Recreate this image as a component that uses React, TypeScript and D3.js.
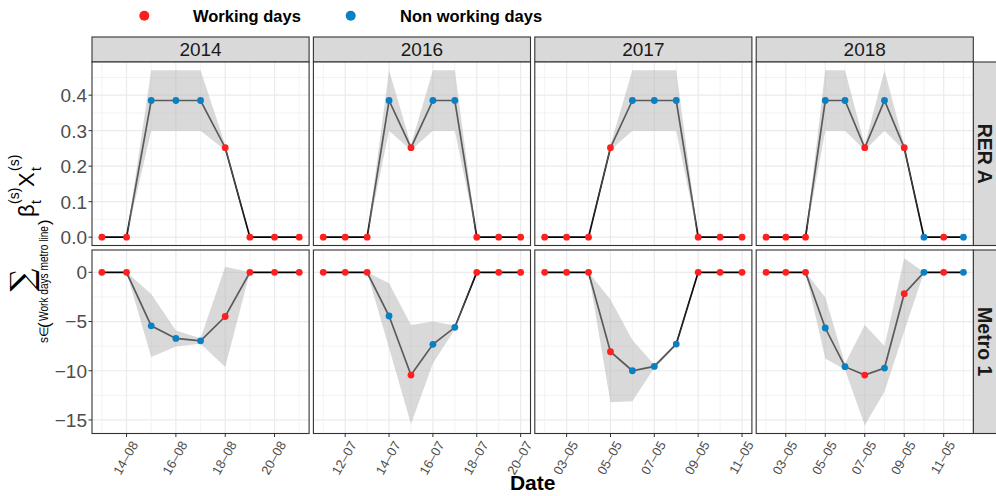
import React from "react";
import * as d3 from "d3";

// ---------------- DATA ----------------
const years = ["2014", "2016", "2017", "2018"];
const rows = ["RER A", "Metro 1"];

const dates2014 = ["2014-08-13", "2014-08-14", "2014-08-15", "2014-08-16", "2014-08-17", "2014-08-18", "2014-08-19", "2014-08-20", "2014-08-21"];
const dates2016 = ["2016-07-11", "2016-07-12", "2016-07-13", "2016-07-14", "2016-07-15", "2016-07-16", "2016-07-17", "2016-07-18", "2016-07-19", "2016-07-20"];
const dates2017 = ["2017-05-02", "2017-05-03", "2017-05-04", "2017-05-05", "2017-05-06", "2017-05-07", "2017-05-08", "2017-05-09", "2017-05-10", "2017-05-11"];
const dates2018 = ["2018-05-02", "2018-05-03", "2018-05-04", "2018-05-05", "2018-05-06", "2018-05-07", "2018-05-08", "2018-05-09", "2018-05-10", "2018-05-11", "2018-05-12"];

// W = working day, N = non working day
const dayType2014 = ["W", "W", "N", "N", "N", "W", "W", "W", "W"];
const dayType2016 = ["W", "W", "W", "N", "W", "N", "N", "W", "W", "W"];
const dayType2017 = ["W", "W", "W", "W", "N", "N", "N", "W", "W", "W"];
const dayType2018 = ["W", "W", "W", "N", "N", "W", "N", "W", "N", "W", "N"];

const rerValue2014 = [0, 0, 0.385, 0.385, 0.385, 0.252, 0, 0, 0];
const rerLow2014 = [0, 0, 0.3, 0.3, 0.3, 0.245, 0, 0, 0];
const rerHigh2014 = [0, 0, 0.47, 0.47, 0.47, 0.26, 0, 0, 0];
const rerValue2016 = [0, 0, 0, 0.385, 0.252, 0.385, 0.385, 0, 0, 0];
const rerLow2016 = [0, 0, 0, 0.3, 0.245, 0.3, 0.3, 0, 0, 0];
const rerHigh2016 = [0, 0, 0, 0.47, 0.26, 0.47, 0.47, 0, 0, 0];
const rerValue2017 = [0, 0, 0, 0.252, 0.385, 0.385, 0.385, 0, 0, 0];
const rerLow2017 = [0, 0, 0, 0.245, 0.3, 0.3, 0.3, 0, 0, 0];
const rerHigh2017 = [0, 0, 0, 0.26, 0.47, 0.47, 0.47, 0, 0, 0];
const rerValue2018 = [0, 0, 0, 0.385, 0.385, 0.252, 0.385, 0.252, 0, 0, 0];
const rerLow2018 = [0, 0, 0, 0.3, 0.3, 0.245, 0.3, 0.245, 0, 0, 0];
const rerHigh2018 = [0, 0, 0, 0.47, 0.47, 0.26, 0.47, 0.26, 0, 0, 0];

const metroValue2014 = [0, 0, -5.44, -6.72, -6.96, -4.49, 0, 0, 0];
const metroLow2014 = [0, 0, -8.61, -7.53, -7.26, -9.63, 0, 0, 0];
const metroHigh2014 = [0, 0, -2.2, -5.91, -6.7, 0.57, 0, 0, 0];
const metroValue2016 = [0, 0, 0, -4.44, -10.44, -7.32, -5.59, 0, 0, 0];
const metroLow2016 = [0, 0, 0, -7.7, -15.4, -9.25, -5.8, 0, 0, 0];
const metroHigh2016 = [0, 0, 0, -1.12, -5.36, -5.0, -5.4, 0, 0, 0];
const metroValue2017 = [0, 0, 0, -8.07, -10.0, -9.56, -7.29, 0, 0, 0];
const metroLow2017 = [0, 0, 0, -13.2, -13.1, -9.7, -7.4, 0, 0, 0];
const metroHigh2017 = [0, 0, 0, -2.75, -6.88, -9.4, -7.2, 0, 0, 0];
const metroValue2018 = [0, 0, 0, -5.66, -9.59, -10.44, -9.73, -2.17, 0, 0, 0];
const metroLow2018 = [0, 0, 0, -8.75, -9.9, -15.53, -12.14, -6.0, 0, 0, 0];
const metroHigh2018 = [0, 0, 0, -2.54, -9.3, -5.36, -7.49, 1.42, 0, 0, 0];

const xTicks2014 = ["2014-08-14", "2014-08-16", "2014-08-18", "2014-08-20"];
const xTicks2016 = ["2016-07-12", "2016-07-14", "2016-07-16", "2016-07-18", "2016-07-20"];
const xTicks2017 = ["2017-05-03", "2017-05-05", "2017-05-07", "2017-05-09", "2017-05-11"];
const xTicks2018 = ["2018-05-03", "2018-05-05", "2018-05-07", "2018-05-09", "2018-05-11"];

const rerTicks = [0, 0.1, 0.2, 0.3, 0.4];
const rerTickLabels = ["0.0", "0.1", "0.2", "0.3", "0.4"];
const rerMinor = [0.05, 0.15, 0.25, 0.35, 0.45];
const metroTicks = [0, -5, -10, -15];
const metroTickLabels = ["0", "\u22125", "\u221210", "\u221215"];
const metroMinor = [-2.5, -7.5, -12.5];

const legendLabels = ["Working days", "Non working days"];

// ---------------- BUILD TABLES ----------------
const datesByYear = [dates2014, dates2016, dates2017, dates2018];
const typesByYear = [dayType2014, dayType2016, dayType2017, dayType2018];
const ticksByYear = [xTicks2014, xTicks2016, xTicks2017, xTicks2018];
const rerSeries = [
  [rerValue2014, rerLow2014, rerHigh2014],
  [rerValue2016, rerLow2016, rerHigh2016],
  [rerValue2017, rerLow2017, rerHigh2017],
  [rerValue2018, rerLow2018, rerHigh2018],
];
const metroSeries = [
  [metroValue2014, metroLow2014, metroHigh2014],
  [metroValue2016, metroLow2016, metroHigh2016],
  [metroValue2017, metroLow2017, metroHigh2017],
  [metroValue2018, metroLow2018, metroHigh2018],
];

const parse = d3.utcParse("%Y-%m-%d");
const fmt = d3.utcFormat("%d\u2013%m");

type Pt = { date: Date; v: number; lo: number; hi: number; work: boolean };

function buildPanel(col: number, series: number[][][]): Pt[] {
  const [v, lo, hi] = series[col];
  return datesByYear[col].map((d, i) => ({
    date: parse(d) as Date,
    v: v[i],
    lo: lo[i],
    hi: hi[i],
    work: typesByYear[col][i] === "W",
  }));
}

// ---------------- LAYOUT ----------------
const WIDTH = 996;
const HEIGHT = 496;
const FONT = "'Liberation Sans', Arial, Helvetica, sans-serif";
const RED = "#FF1F1F";
const BLUE = "#0A80C4";
const GRID = "#EBEBEB";
const FRAME = "#333333";
const STRIP = "#D9D9D9";

const panelLeft = 92;
const panelRight = 973.3;
const colGap = 4.3;
const panelW = (panelRight - panelLeft - 3 * colGap) / 4;
const stripTop = 37;
const stripH = 25;
const rowTop = [62, 250];
const panelH = 183.5;

function expanded(min: number, max: number): [number, number] {
  const pad = (max - min) * 0.05;
  return [min - pad, max + pad];
}

const rerAll = rerSeries.flatMap((s) => [...s[1], ...s[2], ...s[0]]);
const metroAll = metroSeries.flatMap((s) => [...s[1], ...s[2], ...s[0]]);
const rerDomain = expanded(d3.min(rerAll)!, d3.max(rerAll)!);
const metroDomain = expanded(d3.min(metroAll)!, d3.max(metroAll)!);

const yScales = [
  d3.scaleLinear().domain(rerDomain).range([rowTop[0] + panelH, rowTop[0]]),
  d3.scaleLinear().domain(metroDomain).range([rowTop[1] + panelH, rowTop[1]]),
];
const yMajor = [rerTicks, metroTicks];
const yMajorLabels = [rerTickLabels, metroTickLabels];
const yMinor = [rerMinor, metroMinor];

function xScaleFor(col: number) {
  const ds = datesByYear[col].map((d) => parse(d) as Date);
  const t0 = +ds[0];
  const t1 = +ds[ds.length - 1];
  const pad = (t1 - t0) * 0.05;
  const x0 = panelLeft + col * (panelW + colGap);
  return d3.scaleUtc().domain([new Date(t0 - pad), new Date(t1 + pad)]).range([x0, x0 + panelW]);
}

function Panel({ row, col }: { row: number; col: number }) {
  const x = xScaleFor(col);
  const y = yScales[row];
  const data = buildPanel(col, row === 0 ? rerSeries : metroSeries);
  const x0 = x.range()[0];
  const top = rowTop[row];
  const tickSet = new Set(ticksByYear[col]);
  const line = d3.line<Pt>().x((d) => x(d.date)).y((d) => y(d.v));
  const area = d3
    .area<Pt>()
    .x((d) => x(d.date))
    .y0((d) => y(d.lo))
    .y1((d) => y(d.hi));
  return (
    <g>
      <rect x={x0} y={top} width={panelW} height={panelH} fill="#fff" />
      {yMinor[row].map((v) => (
        <line key={"ym" + v} x1={x0} x2={x0 + panelW} y1={y(v)} y2={y(v)} stroke={GRID} strokeWidth={0.6} />
      ))}
      {datesByYear[col]
        .filter((d) => !tickSet.has(d))
        .map((d) => (
          <line key={"xm" + d} x1={x(parse(d) as Date)} x2={x(parse(d) as Date)} y1={top} y2={top + panelH} stroke={GRID} strokeWidth={0.6} />
        ))}
      {yMajor[row].map((v) => (
        <line key={"yM" + v} x1={x0} x2={x0 + panelW} y1={y(v)} y2={y(v)} stroke={GRID} strokeWidth={1.2} />
      ))}
      {ticksByYear[col].map((d) => (
        <line key={"xM" + d} x1={x(parse(d) as Date)} x2={x(parse(d) as Date)} y1={top} y2={top + panelH} stroke={GRID} strokeWidth={1.2} />
      ))}
      <path d={line(data)!} fill="none" stroke="#000" strokeWidth={1.7} />
      <path d={area(data)!} fill="#B3B3B3" fillOpacity={0.5} />
      {data.map((d, i) => (
        <circle key={i} cx={x(d.date)} cy={y(d.v)} r={3.4} fill={d.work ? RED : BLUE} />
      ))}
      <rect x={x0} y={top} width={panelW} height={panelH} fill="none" stroke={FRAME} strokeWidth={1.1} />
      {row === 1 &&
        ticksByYear[col].map((d) => {
          const tx = x(parse(d) as Date);
          return (
            <g key={"xt" + d}>
              <line x1={tx} x2={tx} y1={top + panelH} y2={top + panelH + 3.5} stroke={FRAME} strokeWidth={1} />
              <text
                transform={`translate(${tx + 12},${top + panelH + 11}) rotate(-60)`}
                textAnchor="end"
                fontSize={13}
                fill="#4D4D4D"
                fontFamily={FONT}
              >
                {fmt(parse(d) as Date)}
              </text>
            </g>
          );
        })}
    </g>
  );
}

function YAxis({ row }: { row: number }) {
  const y = yScales[row];
  return (
    <g>
      {yMajor[row].map((v, i) => (
        <g key={v}>
          <line x1={88.5} x2={panelLeft} y1={y(v)} y2={y(v)} stroke={FRAME} strokeWidth={1} />
          <text x={87} y={y(v)} dy="0.36em" textAnchor="end" fontSize={19} fill="#4D4D4D" fontFamily={FONT}>
            {yMajorLabels[row][i]}
          </text>
        </g>
      ))}
    </g>
  );
}

function YTitle() {
  // rotated frame: local x' = -realY, local y' = realX
  return (
    <g transform="rotate(-90)" fontFamily={FONT} fill="#000">
      <text x={-280} y={33} textAnchor="middle" fontSize={32} fontFamily="'DejaVu Serif', serif">
        {"\u2211"}
      </text>
      <text x={-343} y={48} fontSize={12}>{"s\u2208"}</text>
      <text x={-328} y={49.5} fontSize={17}>{"("}</text>
      <text x={-321} y={48} fontSize={12} textLength={95} lengthAdjust="spacingAndGlyphs">
        {"Work days metro line"}
      </text>
      <text x={-225} y={49.5} fontSize={17}>{")"}</text>
      <text x={-217} y={34} fontSize={22}>{"\u03B2"}</text>
      <text x={-204} y={19} fontSize={14}>{"(s)"}</text>
      <text x={-204} y={41} fontSize={14}>{"t"}</text>
      <text x={-187} y={34} fontSize={22}>{"X"}</text>
      <text x={-171} y={19} fontSize={14}>{"(s)"}</text>
      <text x={-171} y={41} fontSize={14}>{"t"}</text>
    </g>
  );
}

export default function App() {
  return (
    <svg
      width={WIDTH}
      height={HEIGHT}
      viewBox={`0 0 ${WIDTH} ${HEIGHT}`}
      style={{ position: "absolute", left: 0, top: 0, background: "#fff" }}
    >
      <rect width={WIDTH} height={HEIGHT} fill="#fff" />
      {/* legend */}
      <g fontFamily={FONT} fontWeight="bold" fontSize={16.5} fill="#000">
        <circle cx={144.3} cy={15.7} r={5} fill={RED} />
        <text x={193} y={21.5}>{legendLabels[0]}</text>
        <circle cx={350.7} cy={15.7} r={5} fill={BLUE} />
        <text x={400} y={21.5}>{legendLabels[1]}</text>
      </g>
      {/* top strips */}
      {years.map((yr, c) => {
        const x0 = panelLeft + c * (panelW + colGap);
        return (
          <g key={yr}>
            <rect x={x0} y={stripTop} width={panelW} height={stripH} fill={STRIP} stroke={FRAME} strokeWidth={1.1} />
            <text x={x0 + panelW / 2} y={stripTop + stripH / 2} dy="0.36em" textAnchor="middle" fontSize={19} fill="#1A1A1A" fontFamily={FONT}>
              {yr}
            </text>
          </g>
        );
      })}
      {/* right strips */}
      {rows.map((r, i) => (
        <g key={r}>
          <rect x={panelRight} y={rowTop[i]} width={WIDTH - panelRight + 2} height={panelH} fill={STRIP} stroke={FRAME} strokeWidth={1.1} />
          <text
            transform={`translate(${panelRight + 11.5},${rowTop[i] + panelH / 2}) rotate(90)`}
            dy="0.36em"
            textAnchor="middle"
            fontSize={19.5}
            fontWeight="bold"
            fill="#1A1A1A"
            fontFamily={FONT}
          >
            {r}
          </text>
        </g>
      ))}
      {[0, 1].map((row) =>
        years.map((_, col) => <Panel key={row + "-" + col} row={row} col={col} />)
      )}
      <YAxis row={0} />
      <YAxis row={1} />
      <YTitle />
      <text x={(panelLeft + panelRight) / 2} y={490} textAnchor="middle" fontSize={21} fontWeight="bold" fontFamily={FONT}>
        Date
      </text>
    </svg>
  );
}
